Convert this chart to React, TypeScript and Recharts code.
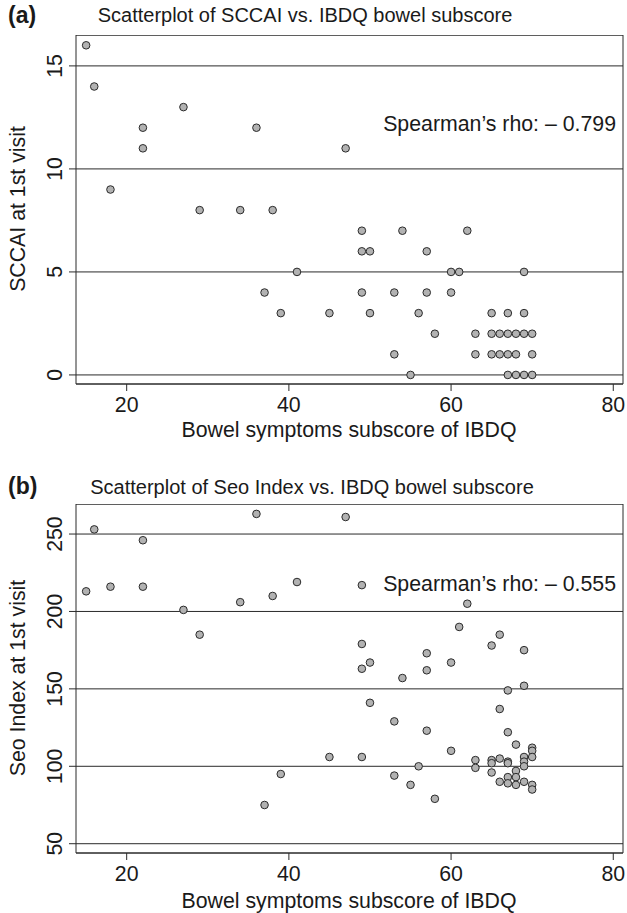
import React from 'react';
import { ScatterChart, Scatter, XAxis, YAxis, CartesianGrid, ReferenceArea } from 'recharts';

// Top panel: IBDQ bowel subscore vs SCCAI
const sccaiX = [15, 16, 18, 22, 22, 27, 29, 34, 36, 37, 38, 39, 41, 45, 47, 49, 49, 49, 50, 50, 53, 53, 54, 55, 56, 57, 57, 58, 60, 60, 61, 62, 63, 63, 65, 65, 65, 66, 66, 67, 67, 67, 67, 68, 68, 68, 69, 69, 69, 69, 70, 70, 70];
const sccaiY = [16, 14, 9, 12, 11, 13, 8, 8, 12, 4, 8, 3, 5, 3, 11, 7, 6, 4, 6, 3, 4, 1, 7, 0, 3, 6, 4, 2, 5, 4, 5, 7, 2, 1, 3, 2, 1, 2, 1, 3, 2, 1, 0, 2, 1, 0, 5, 3, 2, 0, 2, 1, 0];

// Bottom panel: IBDQ bowel subscore vs Seo index
const seoX = [15, 16, 18, 22, 22, 27, 29, 34, 36, 37, 38, 39, 41, 45, 47, 49, 49, 49, 49, 50, 50, 53, 53, 54, 55, 56, 57, 57, 57, 58, 60, 60, 61, 62, 63, 63, 65, 65, 65, 65, 66, 66, 66, 66, 67, 67, 67, 67, 67, 67, 68, 68, 68, 68, 69, 69, 69, 69, 69, 69, 70, 70, 70, 70, 70];
const seoY = [213, 253, 216, 246, 216, 201, 185, 206, 263, 75, 210, 95, 219, 106, 261, 217, 179, 163, 106, 167, 141, 129, 94, 157, 88, 100, 173, 162, 123, 79, 167, 110, 190, 205, 104, 99, 178, 104, 102, 96, 185, 137, 105, 90, 149, 122, 103, 102, 93, 89, 114, 97, 93, 88, 175, 152, 106, 103, 100, 90, 112, 110, 106, 88, 85];

const xTicks = [20, 40, 60, 80];
const sccaiTicks = [0, 5, 10, 15];
const seoTicks = [50, 100, 150, 200, 250];

const xDomain: [number, number] = [13.75, 81.2];
const sccaiDomain: [number, number] = [-0.44, 16.5];
const seoDomain: [number, number] = [44, 269.4];

const sccaiData = sccaiX.map((x, i) => ({ x, y: sccaiY[i] }));
const seoData = seoX.map((x, i) => ({ x, y: seoY[i] }));

const FONT = '"Liberation Sans", Arial, Helvetica, sans-serif';
const INK = '#1a1a1a';
const FS = 21.3;

const Dot = (p: any) => (
  <circle cx={p.cx} cy={p.cy} r={3.8} fill="#b2b2b2" stroke="#2a2a2a" strokeWidth={1} />
);

const YTick = (p: any) => {
  const x = p.x - 5;
  const y = p.y;
  return (
    <text x={x} y={y} transform={`rotate(-90, ${x}, ${y})`} textAnchor="middle" fontFamily={FONT} fontSize={FS} fill={INK}>
      {p.payload.value}
    </text>
  );
};

const XTick = (p: any) => (
  <text x={p.x} y={p.y + 18.5} textAnchor="middle" fontFamily={FONT} fontSize={FS} fill={INK}>
    {p.payload.value}
  </text>
);

function Panel({ data, yDomain, yTicks, height, xAxisHeight }: any) {
  return (
    <ScatterChart width={627} height={height} margin={{ top: 0, right: 4, left: 0, bottom: 0 }}>
      <CartesianGrid vertical={false} stroke="#2a2a2a" strokeWidth={1} />
      <XAxis type="number" dataKey="x" domain={xDomain} ticks={xTicks} allowDataOverflow axisLine={false}
        tickLine={{ stroke: '#2a2a2a' }} tickSize={7} height={xAxisHeight} tick={<XTick />} interval={0} />
      <YAxis type="number" dataKey="y" domain={yDomain} ticks={yTicks} allowDataOverflow axisLine={false}
        tickLine={{ stroke: '#2a2a2a' }} tickSize={7} width={76} tick={<YTick />} interval={0} />
      <ReferenceArea x1={xDomain[0]} x2={xDomain[1]} y1={yDomain[0]} y2={yDomain[1]} fill="none" fillOpacity={0}
        stroke="#2a2a2a" strokeWidth={1} ifOverflow="visible" />
      <Scatter data={data} shape={<Dot />} isAnimationActive={false} />
    </ScatterChart>
  );
}

export default function App() {
  return (
    <div style={{ position: 'absolute', left: 0, top: 0, width: 627, height: 913, background: '#fff' }}>
      <div style={{ position: 'absolute', left: 0, top: 35 }}>
        <Panel data={sccaiData} yDomain={sccaiDomain} yTicks={sccaiTicks} height={420} xAxisHeight={71} />
      </div>
      <div style={{ position: 'absolute', left: 0, top: 504 }}>
        <Panel data={seoData} yDomain={seoDomain} yTicks={seoTicks} height={409} xAxisHeight={60} />
      </div>
      <svg width={627} height={913} style={{ position: 'absolute', left: 0, top: 0, pointerEvents: 'none' }}>
        <g fontFamily={FONT} fill={INK}>
          <text x={8} y={23} fontSize={23} fontWeight="bold">(a)</text>
          <text x={305} y={22} fontSize={20} textAnchor="middle">Scatterplot of SCCAI vs. IBDQ bowel subscore</text>
          <text x={616} y={131} fontSize={FS} textAnchor="end">Spearman’s rho: – 0.799</text>
          <text x={349} y={437} fontSize={FS} textAnchor="middle">Bowel symptoms subscore of IBDQ</text>
          <text x={25} y={209} fontSize={FS} textAnchor="middle" transform="rotate(-90, 25, 209)">SCCAI at 1st visit</text>

          <text x={8} y={494} fontSize={23} fontWeight="bold">(b)</text>
          <text x={312} y={494} fontSize={20} textAnchor="middle">Scatterplot of Seo Index vs. IBDQ bowel subscore</text>
          <text x={616} y={591} fontSize={FS} textAnchor="end">Spearman’s rho: – 0.555</text>
          <text x={349} y={908} fontSize={FS} textAnchor="middle">Bowel symptoms subscore of IBDQ</text>
          <text x={25} y={678} fontSize={FS} textAnchor="middle" transform="rotate(-90, 25, 678)">Seo Index at 1st visit</text>
        </g>
      </svg>
    </div>
  );
}
